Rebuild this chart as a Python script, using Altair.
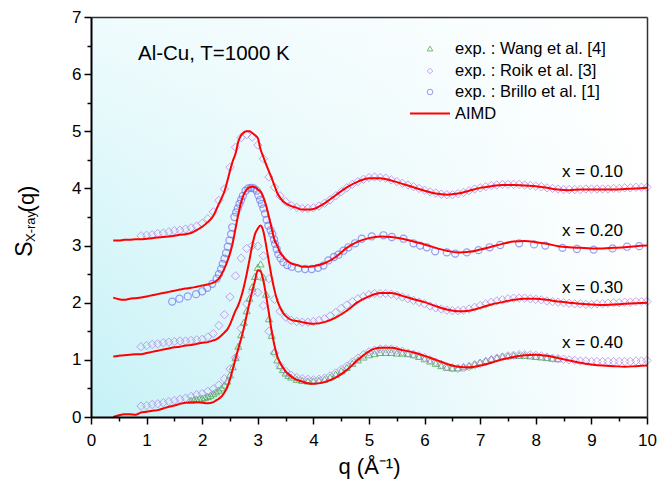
import altair as alt
import pandas as pd

# ---------------- data ----------------
# AIMD curves, plotted values (curves are shifted by +3, +2, +1, 0)
Q_AIMD = [0.4, 0.5, 0.6, 0.7, 0.8, 0.9, 1.0, 1.1, 1.2, 1.3, 1.4, 1.5, 1.6, 1.7, 1.8, 1.9, 2.0, 2.1, 2.2,
          2.25, 2.3, 2.35, 2.4, 2.45, 2.5, 2.55, 2.6, 2.65, 2.7, 2.75, 2.8, 2.85, 2.9, 2.95, 3.0, 3.05, 3.1,
          3.15, 3.2, 3.25, 3.3, 3.35, 3.4, 3.45, 3.5,
          3.6, 3.7, 3.8, 3.9, 4.0,
          4.2, 4.4, 4.6, 4.8, 5.0, 5.2, 5.4, 5.6, 5.8, 6.0, 6.2, 6.4, 6.6, 6.8, 7.0, 7.2, 7.4, 7.6, 7.8, 8.0,
          8.2, 8.4, 8.6, 8.8, 9.0, 9.2, 9.4, 9.6, 9.8, 10.0]

AIMD_010 = [3.09, 3.09, 3.10, 3.10, 3.11, 3.11, 3.12, 3.13, 3.14, 3.15, 3.16, 3.17, 3.19, 3.20, 3.22, 3.27, 3.33, 3.41, 3.52,
            3.62, 3.73, 3.83, 3.95, 4.12, 4.31, 4.48, 4.61, 4.82, 4.93, 4.98, 5.00, 5.00, 4.97, 4.93, 4.88, 4.68, 4.55,
            4.42, 4.30, 4.18, 4.05, 3.92, 3.84, 3.78, 3.74,
            3.69, 3.66, 3.63, 3.63, 3.64,
            3.74, 3.88, 4.02, 4.12, 4.18, 4.18, 4.14, 4.08, 4.02, 3.96, 3.91, 3.89, 3.91, 3.96, 4.01, 4.04, 4.06, 4.06, 4.05, 4.04,
            4.01, 3.98, 3.97, 3.98, 3.98, 3.98, 3.98, 3.99, 4.00, 4.01]

AIMD_020 = [2.09, 2.06, 2.05, 2.07, 2.08, 2.09, 2.11, 2.13, 2.15, 2.17, 2.19, 2.21, 2.23, 2.25, 2.26, 2.28, 2.30, 2.32, 2.35,
            2.38, 2.42, 2.50, 2.60, 2.72, 2.86, 3.05, 3.30, 3.55, 3.76, 3.90, 3.98, 4.02, 4.03, 4.02, 3.98, 3.95, 3.85,
            3.70, 3.50, 3.30, 3.10, 3.00, 2.88, 2.82, 2.76,
            2.69, 2.66, 2.63, 2.63, 2.64,
            2.69, 2.80, 2.96, 3.07, 3.13, 3.16, 3.15, 3.12, 3.07, 3.02, 2.96, 2.91, 2.88, 2.89, 2.93, 2.98, 3.03, 3.07, 3.08, 3.06,
            3.03, 2.99, 2.97, 2.96, 2.95, 2.95, 2.96, 2.97, 2.99, 3.00]

AIMD_030 = [1.06, 1.07, 1.08, 1.09, 1.10, 1.10, 1.12, 1.14, 1.16, 1.18, 1.20, 1.22, 1.23, 1.25, 1.26, 1.28, 1.30, 1.31, 1.34,
            1.36, 1.39, 1.43, 1.48, 1.53, 1.62, 1.74, 1.86, 1.96, 2.10, 2.28, 2.50, 2.75, 3.00, 3.20, 3.30, 3.35, 3.25,
            3.00, 2.72, 2.45, 2.22, 2.04, 1.92, 1.83, 1.77,
            1.70, 1.68, 1.66, 1.64, 1.63,
            1.66, 1.74, 1.86, 2.01, 2.11, 2.17, 2.17, 2.12, 2.06, 2.01, 1.94, 1.88, 1.85, 1.86, 1.91, 1.97, 2.01, 2.05, 2.07, 2.07,
            2.05, 2.02, 2.00, 1.98, 1.97, 1.96, 1.97, 1.98, 1.99, 2.00]

AIMD_040 = [0.00, 0.03, 0.05, 0.05, 0.04, 0.08, 0.09, 0.11, 0.12, 0.15, 0.18, 0.20, 0.23, 0.25, 0.26, 0.26, 0.25, 0.24, 0.26,
            0.29, 0.32, 0.36, 0.43, 0.52, 0.66, 0.84, 1.02, 1.20, 1.37, 1.56, 1.78, 2.00, 2.20, 2.39, 2.57, 2.55, 2.39,
            2.12, 1.82, 1.50, 1.25, 1.06, 0.95, 0.87, 0.80,
            0.71, 0.65, 0.62, 0.59, 0.58,
            0.61, 0.69, 0.82, 1.00, 1.15, 1.21, 1.21, 1.17, 1.13, 1.07, 1.00, 0.93, 0.88, 0.87, 0.90, 0.95, 1.01, 1.05, 1.08, 1.09,
            1.07, 1.03, 0.99, 0.95, 0.92, 0.90, 0.89, 0.88, 0.89, 0.90]

# Roik et al. [3] (diamonds), x = 0.10, 0.30, 0.40
Q_ROIK = [0.9, 1.0, 1.1, 1.2, 1.3, 1.4, 1.5, 1.6, 1.7, 1.8, 1.9, 2.0, 2.1, 2.2, 2.3, 2.4, 2.5, 2.6, 2.7, 2.8,
          2.9, 3.0, 3.1, 3.2, 3.3, 3.4, 3.5, 3.6, 3.7, 3.8, 3.9, 4.0, 4.1, 4.2, 4.3, 4.4, 4.5, 4.6, 4.7, 4.8,
          4.9, 5.0, 5.1, 5.2, 5.3, 5.4, 5.5, 5.6, 5.7, 5.8, 5.9, 6.0, 6.1, 6.2, 6.3, 6.4, 6.5, 6.6, 6.7, 6.8,
          6.9, 7.0, 7.1, 7.2, 7.3, 7.4, 7.5, 7.6, 7.7, 7.8, 7.9, 8.0, 8.1, 8.2, 8.3, 8.4, 8.5, 8.6, 8.7, 8.8,
          8.9, 9.0, 9.1, 9.2, 9.3, 9.4, 9.5, 9.6, 9.7, 9.8, 9.9, 10.0]

ROIK_010 = [3.17, 3.18, 3.19, 3.21, 3.22, 3.24, 3.26, 3.27, 3.29, 3.31, 3.34, 3.39, 3.47, 3.59, 3.79, 3.99, 4.37, 4.72, 4.89, 4.94,
            4.90, 4.76, 4.52, 4.20, 4.02, 3.87, 3.77, 3.70, 3.67, 3.65, 3.65, 3.66, 3.69, 3.74, 3.80, 3.87, 3.94, 4.01, 4.07, 4.12,
            4.16, 4.19, 4.20, 4.19, 4.18, 4.15, 4.12, 4.09, 4.06, 4.03, 4.00, 3.97, 3.94, 3.92, 3.90, 3.89, 3.89, 3.91, 3.93, 3.96,
            3.99, 4.01, 4.03, 4.05, 4.06, 4.07, 4.07, 4.07, 4.07, 4.06, 4.05, 4.04, 4.03, 4.01, 4.00, 3.99, 3.98, 3.98, 3.98, 3.98,
            3.99, 3.99, 3.99, 3.99, 3.99, 4.00, 4.00, 4.01, 4.01, 4.02, 4.02, 4.02]

ROIK_030 = [1.23, 1.25, 1.27, 1.28, 1.30, 1.31, 1.32, 1.33, 1.33, 1.34, 1.35, 1.36, 1.40, 1.46, 1.60, 1.79, 2.10, 2.47, 2.78, 2.95,
            3.00, 2.99, 2.82, 2.42, 2.06, 1.85, 1.75, 1.69, 1.67, 1.66, 1.66, 1.67, 1.69, 1.72, 1.77, 1.83, 1.90, 1.96, 2.02, 2.07,
            2.11, 2.14, 2.16, 2.16, 2.16, 2.15, 2.13, 2.10, 2.07, 2.04, 2.01, 1.98, 1.94, 1.91, 1.89, 1.87, 1.86, 1.86, 1.87, 1.89,
            1.92, 1.95, 1.98, 2.01, 2.03, 2.05, 2.07, 2.08, 2.08, 2.08, 2.07, 2.06, 2.05, 2.03, 2.02, 2.01, 2.00, 1.99, 1.98, 1.98,
            1.97, 1.97, 1.98, 1.98, 1.99, 2.00, 2.00, 2.01, 2.01, 2.02, 2.02, 2.02]

ROIK_040 = [0.19, 0.20, 0.22, 0.23, 0.25, 0.27, 0.29, 0.31, 0.33, 0.36, 0.39, 0.41, 0.45, 0.49, 0.56, 0.67, 0.84, 1.04, 1.55, 1.98,
            2.18, 2.18, 1.95, 1.50, 1.12, 0.90, 0.80, 0.73, 0.69, 0.67, 0.66, 0.65, 0.66, 0.68, 0.72, 0.77, 0.83, 0.89, 0.96, 1.03,
            1.09, 1.14, 1.17, 1.19, 1.19, 1.19, 1.17, 1.15, 1.12, 1.10, 1.07, 1.04, 1.00, 0.96, 0.92, 0.88, 0.86, 0.85, 0.86, 0.88,
            0.91, 0.94, 0.97, 1.00, 1.03, 1.05, 1.07, 1.08, 1.09, 1.09, 1.09, 1.08, 1.07, 1.05, 1.03, 1.02, 1.01, 1.00, 0.99, 0.98,
            0.98, 0.97, 0.97, 0.97, 0.97, 0.97, 0.97, 0.97, 0.97, 0.98, 0.98, 0.99]

# Brillo et al. [1] (circles), x = 0.20
Q_BRILLO = [1.46, 1.59, 1.74, 1.89, 2.00, 2.09, 2.18, 2.26, 2.30, 2.34, 2.37, 2.40, 2.43, 2.46, 2.49, 2.52, 2.54, 2.58, 2.61, 2.64,
            2.67, 2.70, 2.73, 2.78, 2.83, 2.88, 2.93, 2.98, 3.01, 3.04, 3.07, 3.10, 3.13, 3.16, 3.19, 3.23, 3.26, 3.29, 3.31, 3.34,
            3.37, 3.41, 3.46, 3.53, 3.61, 3.73, 3.85, 3.97, 4.08, 4.18, 4.27, 4.37, 4.45, 4.54, 4.63, 4.75, 4.87, 5.05, 5.26, 5.41,
            5.62, 5.80, 5.92, 6.04, 6.19, 6.40, 6.55, 6.76, 6.97, 7.17, 7.36, 7.70, 7.97, 8.17, 8.48, 8.74, 9.04, 9.38, 9.64, 9.86]
BRILLO_020 = [2.02, 2.07, 2.11, 2.15, 2.20, 2.26, 2.33, 2.42, 2.50, 2.59, 2.68, 2.77, 2.87, 2.98, 3.09, 3.20, 3.32, 3.50, 3.58, 3.65,
              3.73, 3.80, 3.87, 3.96, 4.00, 4.01, 4.00, 3.96, 3.88, 3.80, 3.73, 3.65, 3.56, 3.45, 3.35, 3.27, 3.20, 3.11, 3.03, 2.94,
              2.85, 2.78, 2.71, 2.66, 2.63, 2.60, 2.59, 2.59, 2.61, 2.65, 2.74, 2.80, 2.84, 2.91, 2.97, 3.04, 3.12, 3.16, 3.18, 3.15,
              3.12, 3.04, 3.00, 2.97, 2.90, 2.88, 2.86, 2.88, 2.92, 2.97, 3.01, 3.04, 3.02, 3.00, 2.96, 2.94, 2.93, 2.95, 2.98, 2.99]

# Wang et al. [4] (triangles), x = 0.40
Q_WANG = [1.80, 1.85, 1.90, 1.95, 2.00, 2.05, 2.10, 2.15, 2.20, 2.25, 2.30, 2.35, 2.40, 2.45, 2.50, 2.55, 2.60, 2.65, 2.70, 2.75,
          2.80, 2.85, 2.90, 2.95, 3.00, 3.05, 3.10, 3.15, 3.20, 3.25, 3.30, 3.35, 3.40, 3.45, 3.50, 3.55, 3.60,
          3.70, 3.80, 3.90, 4.00,
          4.10, 4.20, 4.30, 4.40, 4.50, 4.60, 4.70, 4.80, 4.90, 5.00, 5.10, 5.20, 5.30, 5.40, 5.50, 5.60, 5.70, 5.80, 5.90, 6.00,
          6.10, 6.20, 6.30, 6.40, 6.50, 6.60, 6.70, 6.80, 6.90, 7.00, 7.10, 7.20, 7.30, 7.40, 7.50, 7.60, 7.70, 7.80, 7.90, 8.00,
          8.10, 8.20, 8.30, 8.40]
WANG_040 = [0.29, 0.30, 0.31, 0.32, 0.33, 0.34, 0.36, 0.38, 0.41, 0.44, 0.47, 0.51, 0.56, 0.63, 0.74, 0.88, 1.04, 1.24, 1.44, 1.66,
            1.86, 2.08, 2.28, 2.46, 2.62, 2.68, 2.45, 2.15, 1.72, 1.43, 1.15, 1.00, 0.90, 0.83, 0.77, 0.73, 0.70,
            0.66, 0.64, 0.63, 0.63,
            0.64, 0.66, 0.70, 0.75, 0.81, 0.87, 0.94, 1.00, 1.05, 1.09, 1.11, 1.13, 1.13, 1.13, 1.12, 1.12, 1.11, 1.09, 1.06, 1.02,
            0.98, 0.94, 0.90, 0.87, 0.86, 0.86, 0.88, 0.90, 0.93, 0.96, 0.99, 1.02, 1.04, 1.06, 1.07, 1.08, 1.08, 1.08, 1.07, 1.06,
            1.05, 1.04, 1.03, 1.02]

CURVE_LABELS = ["x = 0.10", "x = 0.20", "x = 0.30", "x = 0.40"]
LEGEND_LABELS = ["exp. : Wang et al. [4]", "exp. : Roik et al. [3]", "exp. : Brillo et al. [1]", "AIMD"]
X_TICKS = [0, 1, 2, 3, 4, 5, 6, 7, 8, 9, 10]
Y_TICKS = [0, 1, 2, 3, 4, 5, 6, 7]
X_MINOR = [0.5, 1.5, 2.5, 3.5, 4.5, 5.5, 6.5, 7.5, 8.5, 9.5]
Y_MINOR = [0.5, 1.5, 2.5, 3.5, 4.5, 5.5, 6.5]

# ---------------- tables ----------------
aimd_df = pd.concat([
    pd.DataFrame({"q": Q_AIMD, "S": vals, "c": name})
    for name, vals in zip(CURVE_LABELS, [AIMD_010, AIMD_020, AIMD_030, AIMD_040])
])
roik_df = pd.concat([
    pd.DataFrame({"q": Q_ROIK, "S": vals, "c": name})
    for name, vals in zip(["x = 0.10", "x = 0.30", "x = 0.40"], [ROIK_010, ROIK_030, ROIK_040])
])
brillo_df = pd.DataFrame({"q": Q_BRILLO, "S": BRILLO_020})
wang_df = pd.DataFrame({"q": Q_WANG, "S": WANG_040})
one = pd.DataFrame({"k": [0]})
anchor = pd.DataFrame({"q": [5.0], "S": [3.0]})

# ---------------- style ----------------
FONT = "Liberation Sans"
W, H = 556, 400
RED = "#ff0000"
C_WANG = "#3f9f3f"
C_ROIK = "#b47ce8"
C_BRILLO = "#7474ee"

xs = alt.Scale(domain=[0, 10], nice=False, zero=False)
ys = alt.Scale(domain=[0, 7], nice=False, zero=False)

major_x = alt.Axis(orient="bottom", values=X_TICKS, format="d", tickSize=7, tickWidth=1.5, tickColor="black",
                   domainColor="black", domainWidth=2, labelFont=FONT, labelFontSize=17, labelColor="black",
                   labelPadding=8, labelAngle=0, labelFlush=False, labelOverlap=False, grid=False,
                   title="q (Å⁻¹)", titleFont=FONT, titleFontSize=22, titleFontWeight="normal",
                   titleColor="black", titlePadding=8, zindex=1)
major_y = alt.Axis(orient="left", values=Y_TICKS, format="d", tickSize=7, tickWidth=1.5, tickColor="black",
                   domainColor="black", domainWidth=2, labelFont=FONT, labelFontSize=17, labelColor="black",
                   labelPadding=3, labelFlush=False, labelOverlap=False, grid=False, title=None, zindex=1)
minor_x = alt.Axis(orient="bottom", values=X_MINOR, tickSize=4, tickWidth=1.5, tickColor="black",
                   labels=False, domain=False, grid=False, title=None, zindex=1)
minor_y = alt.Axis(orient="left", values=Y_MINOR, tickSize=4, tickWidth=1.5, tickColor="black",
                   labels=False, domain=False, grid=False, title=None, zindex=1)
frame_x = alt.Axis(orient="top", ticks=False, labels=False, domain=True, domainColor="#333333",
                   domainWidth=1.5, grid=False, title=None, zindex=1)
frame_y = alt.Axis(orient="right", ticks=False, labels=False, domain=True, domainColor="#333333",
                   domainWidth=1.5, grid=False, title=None, zindex=1)

# ---------------- layers ----------------
bg_h = alt.Chart(one).mark_rect(fill={
    "gradient": "linear", "x1": 0, "y1": 0, "x2": 1, "y2": 0,
    "stops": [{"offset": 0, "color": "#c6f2f7"}, {"offset": 0.55, "color": "#e4f8fb"},
              {"offset": 1, "color": "#ffffff"}]}).encode(
    x=alt.value(0), x2=alt.value(W), y=alt.value(0), y2=alt.value(H))
bg_v = alt.Chart(one).mark_rect(fill={
    "gradient": "linear", "x1": 0, "y1": 0, "x2": 0, "y2": 1,
    "stops": [{"offset": 0, "color": "rgba(255,255,255,0.72)"},
              {"offset": 1, "color": "rgba(255,255,255,0)"}]}).encode(
    x=alt.value(0), x2=alt.value(W), y=alt.value(0), y2=alt.value(H))

minor = alt.Chart(anchor).mark_point(opacity=0).encode(
    x=alt.X("q:Q", scale=xs, axis=minor_x), y=alt.Y("S:Q", scale=ys, axis=minor_y))
frame = alt.Chart(anchor).mark_point(opacity=0).encode(
    x=alt.X("q:Q", scale=xs, axis=frame_x), y=alt.Y("S:Q", scale=ys, axis=frame_y))

wang = alt.Chart(wang_df).mark_point(shape="triangle-up", filled=False, size=50, strokeWidth=1,
                                     color=C_WANG).encode(
    x=alt.X("q:Q", scale=xs, axis=None), y=alt.Y("S:Q", scale=ys, axis=None))
roik = alt.Chart(roik_df).mark_point(shape="diamond", filled=False, size=70, strokeWidth=1,
                                     color=C_ROIK).encode(
    x=alt.X("q:Q", scale=xs, axis=None), y=alt.Y("S:Q", scale=ys, axis=None))
brillo = alt.Chart(brillo_df).mark_point(shape="circle", filled=False, size=50, strokeWidth=1.2,
                                         color=C_BRILLO).encode(
    x=alt.X("q:Q", scale=xs, axis=None), y=alt.Y("S:Q", scale=ys, axis=None))
lines = alt.Chart(aimd_df).mark_line(color=RED, strokeWidth=2, interpolate="monotone").encode(
    x=alt.X("q:Q", scale=xs, axis=major_x), y=alt.Y("S:Q", scale=ys, axis=major_y),
    detail="c:N")

# legend (drawn inside the plot, top right)
LEG_X_SYM, LEG_X_TXT = 339, 364
LEG_Y = [31.5, 54, 75, 96.5]
leg_shapes = [("triangle-up", C_WANG), ("diamond", C_ROIK), ("circle", C_BRILLO)]
legend_layers = []
for (shape, col), yy in zip(leg_shapes, LEG_Y[:3]):
    legend_layers.append(alt.Chart(one).mark_point(shape=shape, filled=False, size=32, strokeWidth=1,
                                                   color=col).encode(x=alt.value(LEG_X_SYM), y=alt.value(yy)))
legend_layers.append(alt.Chart(one).mark_rule(color=RED, strokeWidth=2).encode(
    x=alt.value(LEG_X_SYM - 20), x2=alt.value(LEG_X_SYM + 20), y=alt.value(LEG_Y[3])))
for lab, yy in zip(LEGEND_LABELS, LEG_Y):
    legend_layers.append(alt.Chart(one).mark_text(text=lab, align="left", baseline="middle", font=FONT,
                                                  fontSize=16.5, color="black").encode(
        x=alt.value(LEG_X_TXT), y=alt.value(yy)))

title_txt = alt.Chart(one).mark_text(text="Al-Cu, T=1000 K", align="left", baseline="middle", font=FONT,
                                     fontSize=20.5, color="black").encode(x=alt.value(47), y=alt.value(37))

curve_txt = []
for lab, yy in zip(CURVE_LABELS, [155, 214, 271, 325.5]):
    curve_txt.append(alt.Chart(one).mark_text(text=lab, align="right", baseline="middle", font=FONT,
                                              fontSize=17, color="black").encode(
        x=alt.value(532), y=alt.value(yy)))

# y-axis title: S with subscript X-ray, then (q)
ytitle = [
    alt.Chart(one).mark_text(text="S", angle=270, align="center", baseline="middle", font=FONT,
                             fontSize=23, color="black").encode(x=alt.value(-66), y=alt.value(232)),
    alt.Chart(one).mark_text(text="X-ray", angle=270, align="center", baseline="middle", font=FONT,
                             fontSize=13, color="black").encode(x=alt.value(-60), y=alt.value(209.5)),
    alt.Chart(one).mark_text(text="(q)", angle=270, align="center", baseline="middle", font=FONT,
                             fontSize=22, color="black").encode(x=alt.value(-64), y=alt.value(182)),
]

chart = alt.layer(
    bg_h, bg_v, minor, frame, wang, roik, brillo, lines,
    *legend_layers, title_txt, *curve_txt, *ytitle
).resolve_axis(
    x="independent", y="independent"
).properties(
    width=W, height=H,
    autosize=alt.AutoSizeParams(type="none"),
    padding={"left": 91, "top": 17, "right": 23, "bottom": 70},
).configure_view(strokeWidth=0).configure(background="white")

chart.save("out.html", embed_options={"renderer": "svg", "actions": False})
